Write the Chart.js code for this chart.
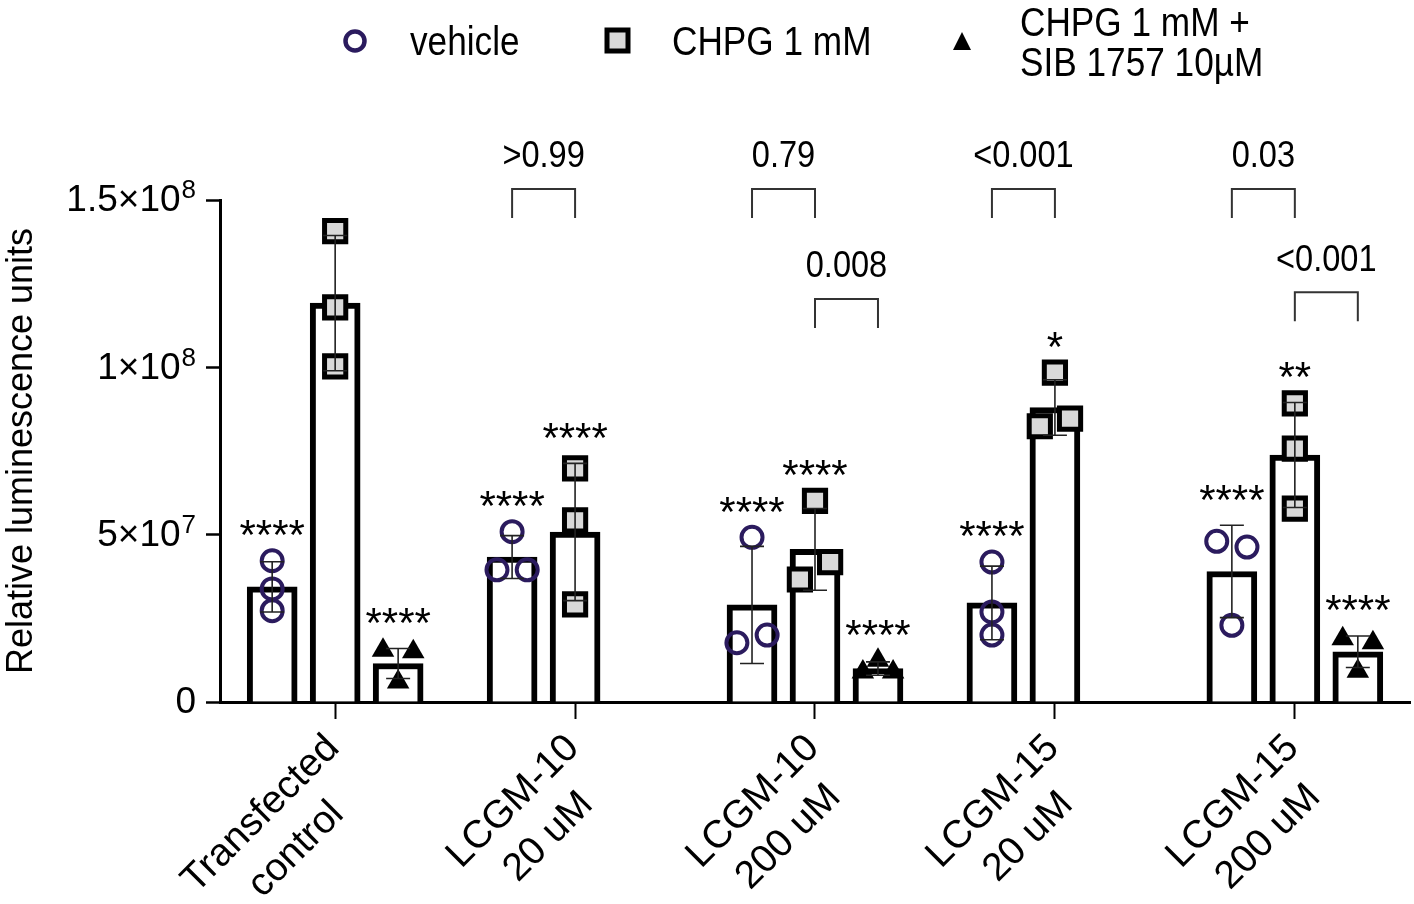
<!DOCTYPE html>
<html>
<head>
<meta charset="utf-8">
<script src="https://cdn.jsdelivr.net/npm/chart.js@4.4.1/dist/chart.umd.min.js"></script>
<style>
  html, body { margin: 0; padding: 0; background: #fff; overflow: hidden; }
  canvas { display: block; }
</style>
</head>
<body>
<canvas id="chart" width="1414" height="904"></canvas>
<script>
const groupLabels = [
  ["Transfected", "control"],
  ["LCGM-10", "20 uM"],
  ["LCGM-10", "200 uM"],
  ["LCGM-15", "20 uM"],
  ["LCGM-15", "200 uM"],
]
const seriesNames = ["vehicle", "CHPG 1 mM", "CHPG 1 mM + SIB 1757 10µM"]
const yTicks = [0, 5e7, 1e8, 1.5e8]

// bar heights (mean) and SD, null where the condition was not run
const vehicleMean = [34.4e6, 43.3e6, 29.0e6, 29.6e6, 39.0e6]
const vehicleSd = [7.5e6, 6.4e6, 17.5e6, 11.0e6, 13.8e6]
const chpgMean = [119.2e6, 50.8e6, 45.6e6, 88.0e6, 73.8e6]
const chpgSd = [20.2e6, 20.5e6, 12.2e6, 8.3e6, 15.7e6]
const sibMean = [11.5e6, null, 10.0e6, null, 15.0e6]
const sibSd = [4.5e6, null, 2.0e6, null, 4.7e6]

// individual replicates
const vehiclePts = [
  [42.2e6, 33.8e6, 27.3e6],
  [50.9e6, 39.5e6, 39.5e6],
  [49.2e6, 17.7e6, 20.0e6],
  [41.8e6, 26.9e6, 20.0e6],
  [48.0e6, 46.3e6, 22.9e6],
]
const chpgPts = [
  [140.7e6, 117.9e6, 100.3e6],
  [69.8e6, 54.3e6, 29.2e6],
  [60.1e6, 36.6e6, 41.8e6],
  [98.4e6, 82.4e6, 84.7e6],
  [89.2e6, 75.7e6, 57.8e6],
]
const sibPts = [
  [15.5e6, 15.0e6, 6.0e6],
  null,
  [12.5e6, 9.0e6, 9.0e6],
  null,
  [18.9e6, 17.7e6, 9.2e6],
]

// significance vs transfected control
const vehicleStars = ["****", "****", "****", "****", "****"]
const chpgStars = ["", "****", "****", "*", "**"]
const sibStars = ["****", "", "****", "", "****"]

// p-value brackets: group, from series, to series, label, height
const brackets = [
  [1, 0, 1, ">0.99", 153.3e6],
  [2, 0, 1, "0.79", 153.3e6],
  [2, 1, 2, "0.008", 120.4e6],
  [3, 0, 1, "<0.001", 153.3e6],
  [4, 0, 1, "0.03", 153.3e6],
  [4, 1, 2, "<0.001", 122.4e6],
]

// point spread inside a bar (-1 left, 0 centre, 1 right)
const vehicleJitter = [[0, 0, 0], [0, -1, 1], [0, -1, 1], [0, 0, 0], [-1, 1, 0]]
const chpgJitter = [[0, 0, 0], [0, 0, 0], [0, -1, 1], [0, -1, 1], [0, 0, 0]]
const sibJitter = [[-1, 1, 0], null, [0, -1, 1], null, [-1, 1, 0]]

const FONT = '"Liberation Sans", Arial, Helvetica, sans-serif'
const seriesOffset = [-0.2625, 0, 0.2625]
const JIT = 0.063
const SQUISH = 0.88
const circleColor = "#2b1b5e"

const means = [vehicleMean, chpgMean, sibMean]
const sds = [vehicleSd, chpgSd, sibSd]
const pts = [vehiclePts, chpgPts, sibPts]
const jitters = [vehicleJitter, chpgJitter, sibJitter]
const stars = [vehicleStars, chpgStars, sibStars]

function barData(s) {
  const out = []
  means[s].forEach((m, i) => {
    if (m != null) out.push({ x: i + 1 + seriesOffset[s], y: m })
  })
  return out
}

function pointData(s) {
  const out = []
  pts[s].forEach((arr, i) => {
    if (!arr) return
    arr.forEach((v, k) => {
      out.push({ x: i + 1 + seriesOffset[s] + jitters[s][i][k] * JIT, y: v })
    })
  })
  return out
}

// text slightly narrower than plain Arial, like the figure
function squishText(ctx, text, x, y, align) {
  ctx.save()
  ctx.translate(x, y)
  ctx.scale(SQUISH, 1)
  ctx.textAlign = align || "left"
  ctx.fillText(text, 0, 0)
  ctx.restore()
}

const barStyle = {
  type: "bar",
  backgroundColor: "#ffffff",
  borderColor: "#000000",
  borderWidth: 6,
  borderSkipped: "bottom",
  barThickness: 50,
  grouped: false,
  order: 5,
}

const extras = {
  id: "extras",
  afterDatasetsDraw(chart) {
    const ctx = chart.ctx
    const x = chart.scales.x
    const y = chart.scales.y

    // error bars (mean ± SD)
    ctx.save()
    ctx.strokeStyle = "#222"
    ctx.lineWidth = 1.6
    for (let s = 0; s < 3; s++) {
      means[s].forEach((m, i) => {
        if (m == null) return
        const px = x.getPixelForValue(i + 1 + seriesOffset[s])
        const top = y.getPixelForValue(m + sds[s][i])
        const bot = y.getPixelForValue(m - sds[s][i])
        ctx.beginPath()
        ctx.moveTo(px, top)
        ctx.lineTo(px, bot)
        ctx.moveTo(px - 12, top)
        ctx.lineTo(px + 12, top)
        ctx.moveTo(px - 12, bot)
        ctx.lineTo(px + 12, bot)
        ctx.stroke()
      })
    }
    ctx.restore()

    // asterisks above each bar
    ctx.save()
    ctx.fillStyle = "#000"
    ctx.font = "42px " + FONT
    ctx.textBaseline = "alphabetic"
    for (let s = 0; s < 3; s++) {
      means[s].forEach((m, i) => {
        const label = stars[s][i]
        if (m == null || !label) return
        const highest = Math.max(m + sds[s][i], ...pts[s][i])
        const px = x.getPixelForValue(i + 1 + seriesOffset[s])
        const cy = y.getPixelForValue(highest) - 36
        ctx.textAlign = "center"
        ctx.fillText(label, px, cy + 0.58 * 42)
      })
    }
    ctx.restore()

    // p-value brackets
    ctx.save()
    ctx.strokeStyle = "#333"
    ctx.lineWidth = 2
    ctx.fillStyle = "#000"
    ctx.font = "37px " + FONT
    ctx.textBaseline = "middle"
    brackets.forEach(([g, a, b, label, h]) => {
      const x1 = x.getPixelForValue(g + 1 + seriesOffset[a])
      const x2 = x.getPixelForValue(g + 1 + seriesOffset[b])
      const yt = y.getPixelForValue(h)
      ctx.beginPath()
      ctx.moveTo(x1, yt + 29)
      ctx.lineTo(x1, yt)
      ctx.lineTo(x2, yt)
      ctx.lineTo(x2, yt + 29)
      ctx.stroke()
      squishText(ctx, label, (x1 + x2) / 2, yt - 32, "center")
    })
    ctx.restore()
  },
  afterDraw(chart) {
    const ctx = chart.ctx
    const x = chart.scales.x
    const y = chart.scales.y

    // y tick labels with raised exponents
    ctx.save()
    ctx.fillStyle = "#000"
    ctx.textBaseline = "middle"
    const right = y.right - 24
    yTicks.forEach((v) => {
      const py = y.getPixelForValue(v)
      if (v === 0) {
        ctx.font = "37px " + FONT
        ctx.textAlign = "right"
        ctx.fillText("0", right, py + 1)
        return
      }
      const e = Math.floor(Math.log10(v))
      const m = +(v / Math.pow(10, e)).toFixed(2)
      ctx.font = "26px " + FONT
      const ew = ctx.measureText(String(e)).width
      ctx.textAlign = "right"
      ctx.fillText(String(e), right, py - 9)
      ctx.font = "37px " + FONT
      ctx.fillText(m + "×10", right - ew - 1, py + 1)
    })
    ctx.restore()

    // x tick labels: 45°, lines centred on each other, longest line ending at the tick
    ctx.save()
    ctx.fillStyle = "#000"
    ctx.font = "39px " + FONT
    ctx.textBaseline = "middle"
    ctx.textAlign = "center"
    groupLabels.forEach((lines, i) => {
      const px = x.getPixelForValue(i + 1)
      const w = Math.max(...lines.map((l) => ctx.measureText(l).width))
      ctx.save()
      ctx.translate(px - 2, y.bottom + 40)
      ctx.rotate(-Math.PI / 4)
      lines.forEach((l, k) => ctx.fillText(l, -w / 2, k * 50))
      ctx.restore()
    })
    ctx.restore()

    // legend
    ctx.save()
    ctx.fillStyle = "#000"
    ctx.font = "40px " + FONT
    ctx.textBaseline = "alphabetic"

    ctx.beginPath()
    ctx.arc(355, 41, 9.5, 0, Math.PI * 2)
    ctx.lineWidth = 4.5
    ctx.strokeStyle = circleColor
    ctx.stroke()

    ctx.fillStyle = "#d9d9d9"
    ctx.fillRect(607, 30, 21, 21)
    ctx.lineWidth = 5
    ctx.strokeStyle = "#000"
    ctx.strokeRect(607, 30, 21, 21)

    ctx.fillStyle = "#000"
    ctx.beginPath()
    ctx.moveTo(962, 32)
    ctx.lineTo(971, 50)
    ctx.lineTo(953, 50)
    ctx.closePath()
    ctx.fill()

    squishText(ctx, seriesNames[0], 410, 55)
    squishText(ctx, seriesNames[1], 672, 55)
    squishText(ctx, "CHPG 1 mM +", 1020, 36)
    squishText(ctx, "SIB 1757 10µM", 1020, 76)
    ctx.restore()
  },
}

new Chart(document.getElementById("chart"), {
  type: "bar",
  data: {
    datasets: [
      { ...barStyle, label: seriesNames[0], data: barData(0) },
      { ...barStyle, label: seriesNames[1], data: barData(1) },
      { ...barStyle, label: seriesNames[2], data: barData(2) },
      {
        type: "scatter",
        label: seriesNames[0] + " points",
        data: pointData(0),
        pointStyle: "circle",
        pointRadius: 10.5,
        pointBorderWidth: 4,
        pointBorderColor: circleColor,
        pointBackgroundColor: "rgba(0,0,0,0)",
        order: 1,
      },
      {
        type: "scatter",
        label: seriesNames[1] + " points",
        data: pointData(1),
        pointStyle: "rect",
        pointRadius: 15,
        pointBorderWidth: 5,
        pointBorderColor: "#000",
        pointBackgroundColor: "#d9d9d9",
        order: 1,
      },
      {
        type: "scatter",
        label: seriesNames[2] + " points",
        data: pointData(2),
        pointStyle: "triangle",
        pointRadius: 13,
        pointBorderWidth: 0,
        pointBackgroundColor: "#000",
        order: 1,
      },
    ],
  },
  options: {
    responsive: false,
    animation: false,
    events: [],
    // no automatic room for point radius, the axes are placed by hand
    layout: { autoPadding: false, padding: { top: 200, right: 4, left: 0, bottom: 0 } },
    plugins: {
      legend: { display: false },
      tooltip: { enabled: false },
    },
    scales: {
      x: {
        type: "linear",
        offset: false,
        min: 0.52,
        max: 5.48,
        afterBuildTicks: (scale) => {
          scale.ticks = groupLabels.map((_, i) => ({ value: i + 1 }))
        },
        afterFit: (scale) => {
          scale.height = 202
          scale.paddingLeft = 0
          scale.paddingRight = 0
        },
        grid: {
          offset: false,
          drawOnChartArea: false,
          drawTicks: true,
          tickLength: 17,
          tickWidth: 2,
          tickColor: "#000",
        },
        border: { display: true, color: "#000", width: 3 },
        ticks: {
          // labels are drawn by the plugin (centred multi-line)
          autoSkip: false,
          maxRotation: 0,
          color: "rgba(0,0,0,0)",
          callback: () => "",
        },
      },
      y: {
        min: 0,
        max: 1.5e8,
        afterBuildTicks: (scale) => {
          scale.ticks = yTicks.map((v) => ({ value: v }))
        },
        afterFit: (scale) => {
          scale.width = 220
        },
        grid: {
          drawOnChartArea: false,
          drawTicks: true,
          tickLength: 14,
          tickWidth: 2.5,
          tickColor: "#000",
        },
        border: { display: true, color: "#000", width: 3 },
        ticks: {
          // labels are drawn by the plugin so the exponent can be raised
          padding: 0,
          color: "rgba(0,0,0,0)",
          font: { family: FONT, size: 36 },
          callback: () => "",
        },
        title: {
          display: true,
          text: "Relative luminescence units",
          color: "#000",
          padding: { top: 0, bottom: 0 },
          font: { family: FONT, size: 36 },
        },
      },
    },
  },
  plugins: [extras],
})
</script>
</body>
</html>
